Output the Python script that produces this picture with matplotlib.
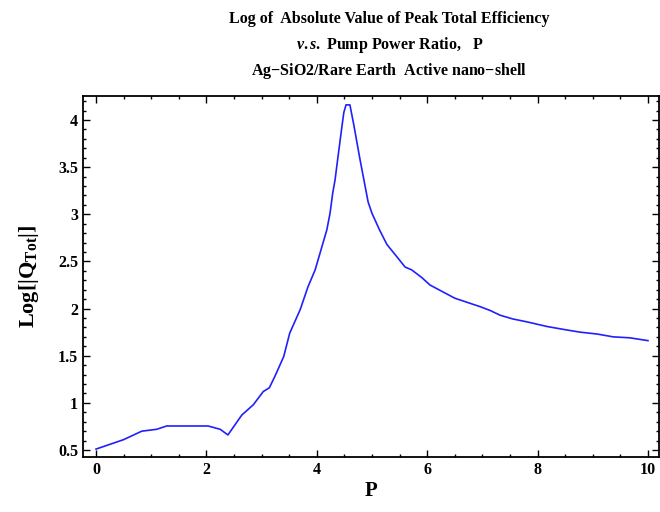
import matplotlib
matplotlib.use("Agg")
import matplotlib.pyplot as plt
from matplotlib.ticker import MultipleLocator

plt.rcParams['font.family'] = ['Liberation Serif', 'DejaVu Serif']
plt.rcParams['font.weight'] = 'bold'
plt.rcParams['mathtext.fontset'] = 'custom'
plt.rcParams['mathtext.rm'] = 'Liberation Serif:bold'
plt.rcParams['mathtext.it'] = 'Liberation Serif:italic'
plt.rcParams['mathtext.bf'] = 'Liberation Serif:bold'

# Data
P = [0.0, 0.25, 0.5, 0.83, 1.1, 1.28, 1.6, 2.03, 2.25, 2.39, 2.64, 2.85, 3.03, 3.14,
     3.24, 3.4, 3.51, 3.70, 3.84, 3.97, 4.09, 4.18, 4.24, 4.29, 4.33, 4.38, 4.46,
     4.49, 4.53, 4.60, 4.67, 4.78, 4.93, 5.0, 5.14, 5.27, 5.45, 5.6, 5.72,
     5.9, 6.05, 6.5, 6.96, 7.14, 7.32, 7.55, 7.8, 8.17, 8.46, 8.77, 9.08, 9.37,
     9.67, 10.0]
logQ = [0.51, 0.56, 0.61, 0.70, 0.72, 0.755, 0.755, 0.755, 0.72, 0.66, 0.87, 0.98,
        1.12, 1.16, 1.28, 1.49, 1.74, 1.99, 2.23, 2.41, 2.65, 2.83, 3.01, 3.23, 3.36,
        3.59, 3.95, 4.08, 4.16, 4.16, 3.95, 3.59, 3.13, 3.01, 2.83, 2.68, 2.55,
        2.44, 2.41, 2.33, 2.25, 2.11, 2.02, 1.98, 1.93, 1.89, 1.86, 1.81, 1.78, 1.75,
        1.73, 1.70, 1.69, 1.66]

title_lines = ["Log of  Absolute Value of Peak Total Efficiency",
               r"$\mathit{v.s.}$ Pump Power Ratio,   P",
               r"Ag$-$SiO2/Rare Earth  Active nano$-$shell"]
xlabel = "P"
ylabel = r"Log[|Q$_{\mathbf{Tot}}$|]"

fig = plt.figure(figsize=(6.6, 5.12), dpi=100)
ax = fig.add_axes([0.1258, 0.1074, 0.8727, 0.7051])
ax.plot(P, logQ, color='#2020ff', lw=1.2)

ax.set_xlim(-0.235, 10.2)
ax.set_ylim(0.426, 4.254)
ax.xaxis.set_major_locator(MultipleLocator(2))
ax.xaxis.set_minor_locator(MultipleLocator(0.5))
ax.yaxis.set_major_locator(MultipleLocator(0.5))
ax.yaxis.set_minor_locator(MultipleLocator(0.1))
ax.set_yticks([0.5, 1, 1.5, 2, 2.5, 3, 3.5, 4])
ax.set_yticklabels(['0.5', '1', '1.5', '2', '2.5', '3', '3.5', '4'])
ax.tick_params(which='both', direction='in', top=True, right=True, labelsize=11.5, width=1)
ax.tick_params(which='major', length=5)
ax.tick_params(which='minor', length=2.5)
for lab in ax.get_xticklabels() + ax.get_yticklabels():
    lab.set_fontweight('bold')
for s in ax.spines.values():
    s.set_linewidth(1.3)

ax.set_xlabel(xlabel, fontsize=15, fontweight='bold', labelpad=2)
ax.set_ylabel(ylabel, fontsize=16, fontweight='bold', labelpad=12)

ys = [0.962, 0.912, 0.862]
for t, y in zip(title_lines, ys):
    fig.text(0.59, y, t, ha='center', va='center', fontsize=11.5, fontweight='bold')

fig.savefig("out.png", dpi=100)
